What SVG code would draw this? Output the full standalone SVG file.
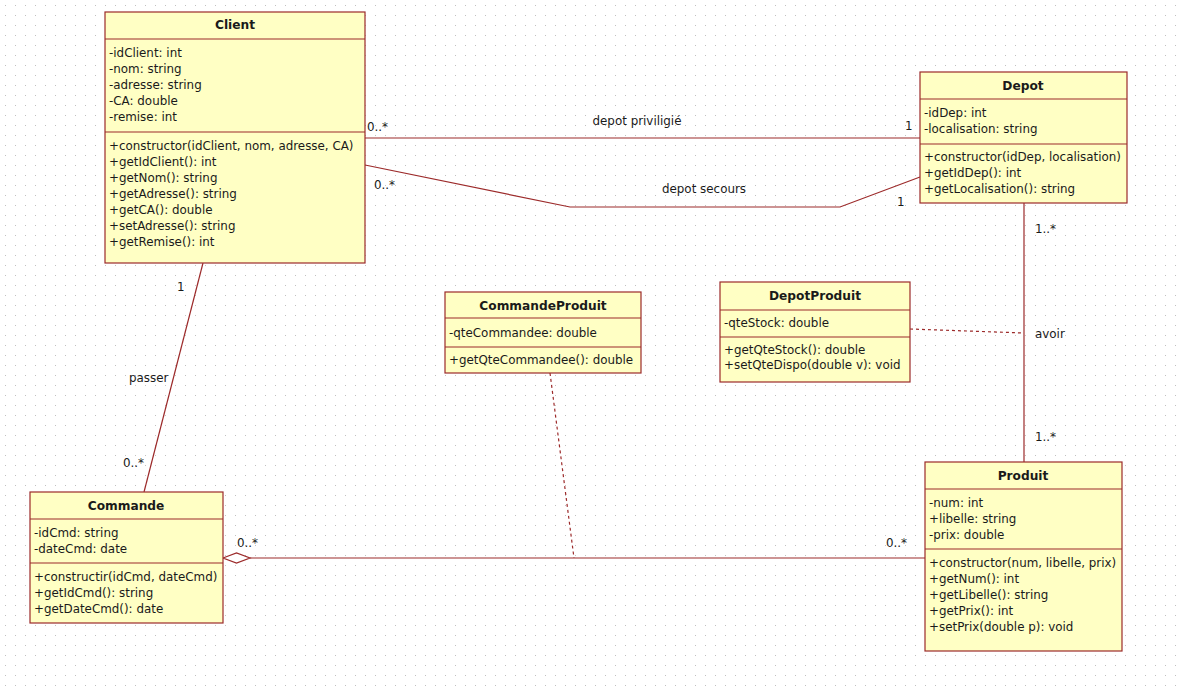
<svg xmlns="http://www.w3.org/2000/svg" width="1177" height="687" viewBox="0 0 1177 687">
<defs>
<pattern id="grid" x="0" y="0" width="10" height="10" patternUnits="userSpaceOnUse">
<rect x="5" y="5" width="1" height="1" fill="#c0c0c0"/>
</pattern>
<style>
.box{fill:#ffffc4;stroke:#9c2a2a;stroke-width:1.2}
.div{stroke:#9c2a2a;stroke-width:1.2}
.t{font-family:"DejaVu Sans",Verdana,sans-serif;font-size:11.9px;fill:#1a1a1a}
.h{font-family:"DejaVu Sans",Verdana,sans-serif;font-size:12.2px;font-weight:bold;fill:#1a1a1a;text-anchor:middle}
.ln{fill:none;stroke:#9c2a2a;stroke-width:1.2}
.dash{fill:none;stroke:#9c2a2a;stroke-width:1.2;stroke-dasharray:3 3}
</style>
</defs>
<rect width="1177" height="687" fill="#ffffff"/>
<rect width="1177" height="687" fill="url(#grid)"/>

<g id="connectors">
<line class="ln" x1="365" y1="138" x2="920" y2="138"/>
<polyline class="ln" points="365,165 570,207 840,207 920,177"/>
<line class="ln" x1="203" y1="263" x2="144" y2="492"/>
<line class="ln" x1="1024" y1="203" x2="1024" y2="462"/>
<line class="dash" x1="910" y1="329" x2="1024" y2="333"/>
<line class="ln" x1="250" y1="558" x2="925" y2="558"/>
<polygon points="223,558 236.5,553 250,558 236.5,563" fill="#ffffff" stroke="#9c2a2a" stroke-width="1.2"/>
<line class="dash" x1="550" y1="373" x2="574" y2="558"/>
<text class="t" x="367" y="131">0..*</text>
<text class="t" x="637" y="125" text-anchor="middle">depot priviligié</text>
<text class="t" x="905" y="130">1</text>
<text class="t" x="374" y="189">0..*</text>
<text class="t" x="704" y="193" text-anchor="middle">depot secours</text>
<text class="t" x="897" y="206">1</text>
<text class="t" x="177" y="291">1</text>
<text class="t" x="129" y="382">passer</text>
<text class="t" x="123" y="467">0..*</text>
<text class="t" x="1035" y="233">1..*</text>
<text class="t" x="1035" y="338">avoir</text>
<text class="t" x="1035" y="441">1..*</text>
<text class="t" x="237" y="547">0..*</text>
<text class="t" x="886" y="547">0..*</text>
</g>

<g id="Client">
<rect class="box" x="105" y="12" width="260" height="251"/>
<line class="div" x1="105" y1="39" x2="365" y2="39"/>
<line class="div" x1="105" y1="132" x2="365" y2="132"/>
<text class="h" x="235" y="29">Client</text>
<text class="t" x="109" y="57">-idClient: int</text>
<text class="t" x="109" y="73">-nom: string</text>
<text class="t" x="109" y="89">-adresse: string</text>
<text class="t" x="109" y="105">-CA: double</text>
<text class="t" x="109" y="121">-remise: int</text>
<text class="t" x="109" y="150">+constructor(idClient, nom, adresse, CA)</text>
<text class="t" x="109" y="166">+getIdClient(): int</text>
<text class="t" x="109" y="182">+getNom(): string</text>
<text class="t" x="109" y="198">+getAdresse(): string</text>
<text class="t" x="109" y="214">+getCA(): double</text>
<text class="t" x="109" y="230">+setAdresse(): string</text>
<text class="t" x="109" y="246">+getRemise(): int</text>
</g>

<g id="Depot">
<rect class="box" x="920" y="72" width="207" height="131"/>
<line class="div" x1="920" y1="99" x2="1127" y2="99"/>
<line class="div" x1="920" y1="144" x2="1127" y2="144"/>
<text class="h" x="1023" y="90">Depot</text>
<text class="t" x="924" y="117">-idDep: int</text>
<text class="t" x="924" y="133">-localisation: string</text>
<text class="t" x="924" y="161">+constructor(idDep, localisation)</text>
<text class="t" x="924" y="177">+getIdDep(): int</text>
<text class="t" x="924" y="193">+getLocalisation(): string</text>
</g>

<g id="CommandeProduit">
<rect class="box" x="445" y="292" width="196" height="81"/>
<line class="div" x1="445" y1="318" x2="641" y2="318"/>
<line class="div" x1="445" y1="347" x2="641" y2="347"/>
<text class="h" x="543" y="310">CommandeProduit</text>
<text class="t" x="449" y="337">-qteCommandee: double</text>
<text class="t" x="449" y="364">+getQteCommandee(): double</text>
</g>

<g id="DepotProduit">
<rect class="box" x="720" y="282" width="190" height="100"/>
<line class="div" x1="720" y1="310" x2="910" y2="310"/>
<line class="div" x1="720" y1="337" x2="910" y2="337"/>
<text class="h" x="815" y="300">DepotProduit</text>
<text class="t" x="724" y="327">-qteStock: double</text>
<text class="t" x="724" y="354">+getQteStock(): double</text>
<text class="t" x="724" y="369">+setQteDispo(double v): void</text>
</g>

<g id="Commande">
<rect class="box" x="30" y="492" width="193" height="131"/>
<line class="div" x1="30" y1="519" x2="223" y2="519"/>
<line class="div" x1="30" y1="563" x2="223" y2="563"/>
<text class="h" x="126" y="510">Commande</text>
<text class="t" x="34" y="537">-idCmd: string</text>
<text class="t" x="34" y="553">-dateCmd: date</text>
<text class="t" x="34" y="581">+constructir(idCmd, dateCmd)</text>
<text class="t" x="34" y="597">+getIdCmd(): string</text>
<text class="t" x="34" y="613">+getDateCmd(): date</text>
</g>

<g id="Produit">
<rect class="box" x="925" y="462" width="197" height="189"/>
<line class="div" x1="925" y1="489" x2="1122" y2="489"/>
<line class="div" x1="925" y1="549" x2="1122" y2="549"/>
<text class="h" x="1023" y="480">Produit</text>
<text class="t" x="929" y="507">-num: int</text>
<text class="t" x="929" y="523">+libelle: string</text>
<text class="t" x="929" y="539">-prix: double</text>
<text class="t" x="929" y="567">+constructor(num, libelle, prix)</text>
<text class="t" x="929" y="583">+getNum(): int</text>
<text class="t" x="929" y="599">+getLibelle(): string</text>
<text class="t" x="929" y="615">+getPrix(): int</text>
<text class="t" x="929" y="631">+setPrix(double p): void</text>
</g>
</svg>
